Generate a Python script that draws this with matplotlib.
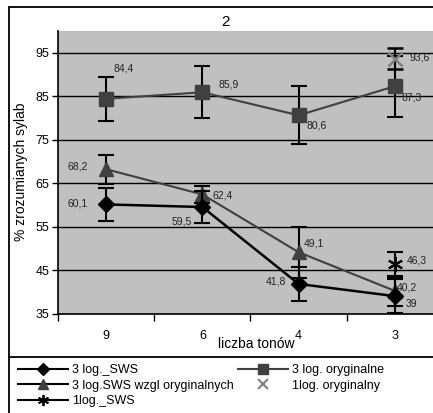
import matplotlib
matplotlib.use("Agg")
import matplotlib.pyplot as plt
from matplotlib.lines import Line2D
from matplotlib.patches import Rectangle

plt.rcParams['font.family'] = ['Liberation Sans', 'DejaVu Sans']

categories = ["9", "6", "4", "3"]
title = "2"
ylabel = "% zrozumianych sylab"
xlabel = "liczba tonów"

sws3 = [60.1, 59.5, 41.8, 39.0]
sws3_err = [3.8, 3.7, 3.9, 3.9]
orig3 = [84.4, 85.9, 80.6, 87.3]
orig3_err = [5.1, 6.0, 6.7, 7.0]
swsrel3 = [68.2, 62.4, 49.1, 40.2]
swsrel3_err = [3.3, 2.0, 5.9, 3.4]
orig1_idx = [3]
orig1 = [93.6]
orig1_err = [2.4]
sws1_idx = [3]
sws1 = [46.3]
sws1_err = [2.9]

labels_sws3 = ["60,1", "59,5", "41,8", "39"]
labels_orig3 = ["84,4", "85,9", "80,6", "87,3"]
labels_swsrel3 = ["68,2", "62,4", "49,1", "40,2"]
labels_orig1 = ["93,6"]
labels_sws1 = ["46,3"]

legend_names = ["3 log._SWS", "3 log. oryginalne", "3 log.SWS wzgl oryginalnych",
                "1log. oryginalny", "1log._SWS"]

W, H = 433, 413
fig = plt.figure(figsize=(W / 100, H / 100), dpi=100)
fig.patch.set_facecolor("white")

ax = fig.add_axes([58 / W, 1 - 313.5 / H, (443 - 58) / W, (313.5 - 31) / H])
ax.set_facecolor("#C0C0C0")
x = list(range(len(categories)))

ekw = dict(ecolor="black", elinewidth=1.5, capsize=5.5, capthick=1.5)

ax.errorbar(x, orig3, yerr=orig3_err, color="#404040", lw=1.5, marker="s",
            ms=10, mfc="#404040", mec="#404040", zorder=3, **ekw)
ax.errorbar(x, swsrel3, yerr=swsrel3_err, color="#404040", lw=1.5, marker="^",
            ms=10, mfc="#404040", mec="#404040", zorder=3, **ekw)
ax.errorbar(x, sws3, yerr=sws3_err, color="black", lw=1.8, marker="D",
            ms=8.5, mfc="black", mec="black", zorder=4, **ekw)
ax.errorbar(orig1_idx, orig1, yerr=orig1_err, color="#808080", lw=0, marker="x",
            ms=10, mew=1.8, zorder=4, **ekw)
ax.errorbar(sws1_idx, sws1, yerr=sws1_err, color="black", lw=1.5, marker=(6, 2, 0),
            ms=11, mew=1.5, zorder=4, **ekw)

fs = 7.5
def lab(xs, ys, texts, offs):
    for xi, yi, t, o in zip(xs, ys, texts, offs):
        ax.annotate(t, (xi, yi), xytext=o, textcoords="offset pixels",
                    ha="center", va="center", fontsize=fs, color="#222222", zorder=6)

lab(x, orig3, labels_orig3, [(18, 30), (26, 8), (18, -10), (17, -11)])
lab(x, sws3, labels_sws3, [(-28, 1), (-21, -14), (-23, 2), (17, -8)])
lab(x, swsrel3, labels_swsrel3, [(-28, 3), (20, -1), (15, 9), (12, 3)])
lab(orig1_idx, orig1, labels_orig1, [(25, 1)])
lab(sws1_idx, sws1, labels_sws1, [(22, 4)])

ax.set_ylim(35, 100)
ax.set_xlim(-0.5, 3.5)
ax.set_yticks([35, 45, 55, 65, 75, 85, 95])
ax.yaxis.grid(True, color="black", lw=1.0)
ax.set_axisbelow(True)
ax.tick_params(axis="y", length=4, width=1, labelsize=9, pad=2)
ax.set_xticks([-0.5, 0.5, 1.5, 2.5])
ax.set_xticklabels([])
ax.tick_params(axis="x", length=5, width=1, direction="out")
for i, c in enumerate(categories):
    ax.text(i, -0.08, c, transform=ax.get_xaxis_transform(), ha="center",
            va="center", fontsize=9)
for s in ["top", "right"]:
    ax.spines[s].set_visible(False)
ax.spines["left"].set_linewidth(1.2)
ax.spines["bottom"].set_linewidth(1.2)

fig.text(226 / W, 1 - 22 / H, title, ha="center", va="center", fontsize=11)
fig.text(21 / W, 1 - 172 / H, ylabel, ha="center", va="center", rotation=90, fontsize=10)
fig.text(256 / W, 1 - 344 / H, xlabel, ha="center", va="center", fontsize=10)

# outer frame and legend box
fig.add_artist(Rectangle((9 / W, -0.1), 1.2, 1 - 7 / H + 0.1, transform=fig.transFigure,
                         fill=False, ec="black", lw=1.3))
fig.add_artist(Line2D([9 / W, 1.0], [1 - 357 / H] * 2, transform=fig.transFigure,
                      color="black", lw=1.3))

h_sws3 = Line2D([], [], color="black", lw=1.5, marker="D", ms=6, mfc="black")
h_orig3 = Line2D([], [], color="#404040", lw=1.5, marker="s", ms=7, mfc="#404040")
h_rel = Line2D([], [], color="black", lw=1.5, marker="^", ms=7, mfc="#404040", mec="#404040")
h_o1 = Line2D([], [], color="#808080", lw=0, marker="x", ms=7, mew=1.5)
h_s1 = Line2D([], [], color="black", lw=1.5, marker=(6, 2, 0), ms=8, mew=1.3)
handles = [h_sws3, h_rel, h_s1, h_orig3, h_o1]
names = [legend_names[0], legend_names[2], legend_names[4], legend_names[1], legend_names[3]]
fig.legend(handles, names, ncol=2, loc="upper left", bbox_to_anchor=(18 / W, 1 - 364 / H),
           frameon=False, fontsize=9, handlelength=4.0, handletextpad=0.32,
           columnspacing=0.3, labelspacing=0.28, borderaxespad=0, borderpad=0)

fig.savefig("out.png", dpi=100)
